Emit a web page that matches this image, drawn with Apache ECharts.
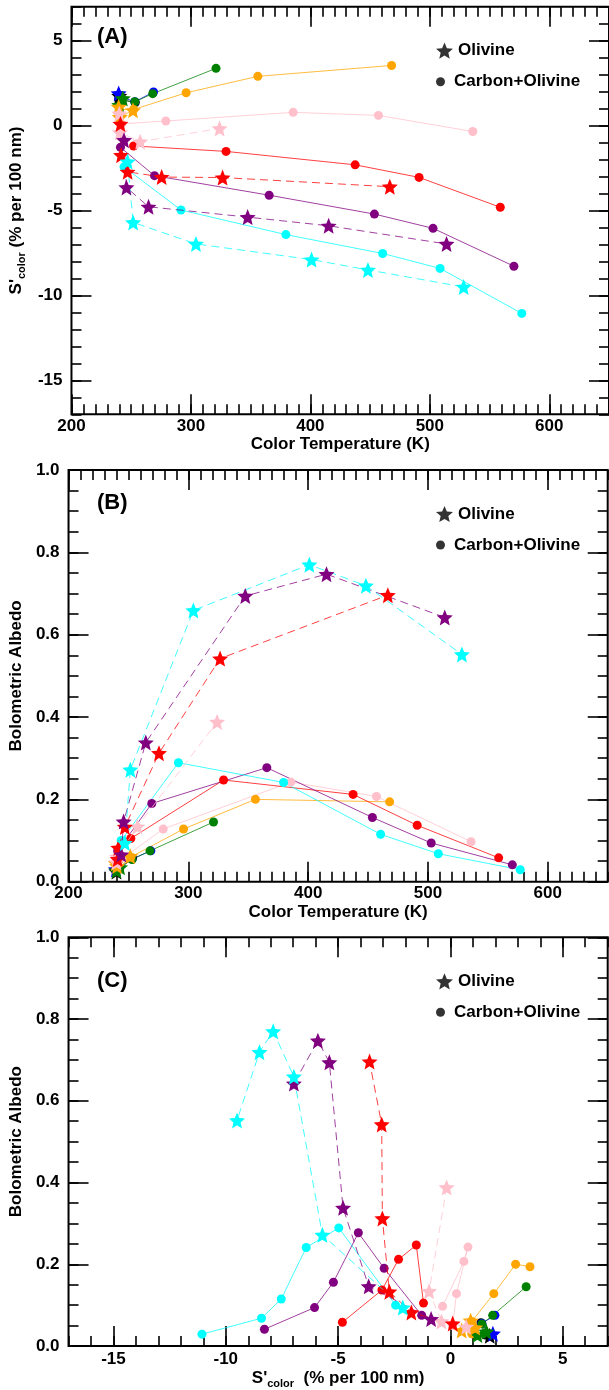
<!DOCTYPE html>
<html><head><meta charset="utf-8">
<script src="https://cdn.jsdelivr.net/npm/echarts@6/dist/echarts.min.js"></script>
<style>html,body{margin:0;padding:0;background:#fff}#c{width:609px;height:1390px}</style>
</head><body><div id="c"></div>
<script>
// ---------------- DATA (T = color temperature K, S = S'color %/100nm, A = bolometric albedo) -------------
// Carbon+Olivine (circles, solid lines)
const blueCircT  = [239.5, 253, 268.7];
const blueCircS  = [1.75, 1.40, 1.98];
const blueCircA  = [0.025, 0.055, 0.075];
const greenCircT = [240, 253, 268, 321];
const greenCircS = [1.50, 1.40, 1.88, 3.37];
const greenCircA = [0.030, 0.054, 0.075, 0.145];
const blackCircT = [239.5, 253.4];
const blackCircS = [1.55, 1.36];
const blackCircA = [0.027, 0.057];
const orangeCircT = [240, 252, 296, 356, 468];
const orangeCircS = [0.95, 0.95, 1.93, 2.90, 3.54];
const orangeCircA = [0.030, 0.060, 0.128, 0.200, 0.194];
const pinkCircT  = [242, 279, 385.6, 457, 536];
const pinkCircS  = [0.10, 0.27, 0.78, 0.60, -0.35];
const pinkCircA  = [0.050, 0.128, 0.242, 0.207, 0.097];
const redCircT   = [252, 329.4, 437.5, 491, 559];
const redCircS   = [-1.20, -1.52, -2.31, -3.05, -4.81];
const redCircA   = [0.105, 0.247, 0.212, 0.137, 0.058];
const purpleCircT = [241, 269.5, 365.5, 453.6, 502.7, 570.4];
const purpleCircS = [-1.28, -2.95, -4.10, -5.21, -6.05, -8.28];
const purpleCircA = [0.075, 0.190, 0.277, 0.156, 0.094, 0.041];
const cyanCircT  = [244, 291.7, 379.5, 460.5, 508.6, 577];
const cyanCircS  = [-2.44, -4.97, -6.42, -7.53, -8.41, -11.06];
const cyanCircA  = [0.100, 0.289, 0.241, 0.115, 0.068, 0.029];
// Olivine (stars, dashed lines)
const blueStarT  = [239.5];
const blueStarS  = [1.89];
const blueStarA  = [0.030];
const blackStarT = [240];
const blackStarS = [1.75];
const blackStarA = [0.025];
const greenStarT = [240, 243];
const greenStarS = [1.20, 1.60];
const greenStarA = [0.027, 0.035];
const orangeStarT = [239.5, 240.5, 251.5];
const orangeStarS = [1.10, 0.50, 0.90];
const orangeStarA = [0.045, 0.038, 0.062];
const pinkStarT  = [240, 240.5, 257.5, 324];
const pinkStarS  = [0.70, -0.40, -0.95, -0.17];
const pinkStarA  = [0.047, 0.060, 0.134, 0.388];
const redStarT   = [241, 241.5, 247, 275.5, 326.5, 466.5];
const redStarS   = [0.10, -1.74, -2.72, -3.03, -3.06, -3.60];
const redStarA   = [0.055, 0.082, 0.133, 0.312, 0.542, 0.696];
const purpleStarT = [244, 246, 264.5, 347.5, 415.3, 514];
const purpleStarS = [-0.86, -3.64, -4.78, -5.39, -5.90, -6.97];
const purpleStarA = [0.066, 0.146, 0.338, 0.694, 0.747, 0.642];
const cyanStarT  = [247, 251.6, 304.2, 401, 448.2, 528.3];
const cyanStarS  = [-2.12, -5.70, -6.97, -7.89, -8.50, -9.50];
const cyanStarA  = [0.094, 0.272, 0.659, 0.770, 0.719, 0.552];

// Tick values
const tempTicks   = [200, 300, 400, 500, 600];
const slopeTicks  = [-15, -10, -5, 0, 5];
const albedoTicks = [0, 0.2, 0.4, 0.6, 0.8, 1.0];
const legendNames = ['Olivine', 'Carbon+Olivine'];
const panelLetters = ['(A)', '(B)', '(C)'];

// ---------------- STYLE ----------------
const FONT = '"Liberation Sans", Arial, Helvetica, sans-serif';
const FS = 17;
const STAR = 'path://M50 0 L63.23 31.8 L97.55 34.55 L71.4 56.95 L79.39 90.45 L50 72.5 L20.61 90.45 L28.6 56.95 L2.45 34.55 L36.77 31.8 Z';

const groups = [
  {c:'#000000', circ:[blackCircT, blackCircS, blackCircA],star:[blackStarT, blackStarS, blackStarA]},
  {c:'#0000ff', circ:[blueCircT, blueCircS, blueCircA],   star:[blueStarT, blueStarS, blueStarA]},
  {c:'#008000', circ:[greenCircT, greenCircS, greenCircA],star:[greenStarT, greenStarS, greenStarA]},
  {c:'#ffa500', circ:[orangeCircT, orangeCircS, orangeCircA], star:[orangeStarT, orangeStarS, orangeStarA]},
  {c:'#ffc0cb', circ:[pinkCircT, pinkCircS, pinkCircA],   star:[pinkStarT, pinkStarS, pinkStarA]},
  {c:'#ff0000', circ:[redCircT, redCircS, redCircA],      star:[redStarT, redStarS, redStarA]},
  {c:'#800080', circ:[purpleCircT, purpleCircS, purpleCircA], star:[purpleStarT, purpleStarS, purpleStarA]},
  {c:'#00ffff', circ:[cyanCircT, cyanCircS, cyanCircA],   star:[cyanStarT, cyanStarS, cyanStarA]}
];

function range(a, b, step) {
  const out = []; const n = Math.round((b - a) / step);
  for (let i = 0; i <= n; i++) out.push(+(a + i * step).toFixed(4));
  return out;
}

const slopeName = (sp) => '{s|S\'}{sub|color}{s|' + sp + '(% per 100 nm)}';
const nameRich = {
  s:   {fontSize:FS, fontWeight:'bold', fontFamily:FONT, color:'#000', lineHeight:21},
  sub: {fontSize:11, fontWeight:'bold', fontFamily:FONT, color:'#000', lineHeight:8, verticalAlign:'bottom'}
};

const panels = [
  {grid:{left:71, top:6.7, width:538.6, height:407.6}, x:0, y:1,
   xr:[200,650], xMaj:tempTicks, xMin:range(200,650,10), xFmt:v=>String(v),
   yr:[-17,7], yMaj:slopeTicks, yMin:range(-17,7,1), yFmt:v=>String(v),
   xName:'Color Temperature (K)', yName:slopeName(' '), xGap:21, yGap:43, xMargin:4, letterDy:19},
  {grid:{left:67.7, top:470, width:540, height:411.7}, x:0, y:2,
   xr:[200,650], xMaj:tempTicks, xMin:range(200,650,10), xFmt:v=>String(v),
   yr:[0,1], yMaj:albedoTicks, yMin:range(0,1,0.05), yFmt:v=>v.toFixed(1),
   xName:'Color Temperature (K)', yName:'Bolometric Albedo', xGap:22, yGap:42, xMargin:3, letterDy:22},
  {grid:{left:67.7, top:937.3, width:540, height:410}, x:1, y:2,
   xr:[-17,7], xMaj:slopeTicks, xMin:range(-17,7,1), xFmt:v=>String(v),
   yr:[0,1], yMaj:albedoTicks, yMin:range(0,1,0.05), yFmt:v=>v.toFixed(1),
   xName:slopeName('  '), yName:'Bolometric Albedo', xGap:22, yGap:42, xMargin:5, letterDy:33}
];

const tickStyle = {color:'#000', width:1.6};
const labelStyle = {color:'#000', fontSize:FS, fontWeight:'bold', fontFamily:FONT};

const grids = [], xAxes = [], yAxes = [], series = [], legends = [], titles = [];

panels.forEach((p, g) => {
  grids.push(Object.assign({show:true, borderColor:'#000', borderWidth:2, backgroundColor:'transparent', containLabel:false}, p.grid));
  const base = (pos, r) => ({type:'value', gridIndex:g, position:pos, min:r[0], max:r[1],
    axisLine:{show:false, onZero:false}, splitLine:{show:false}, axisPointer:{show:false}});
  ['bottom','top'].forEach(pos => {
    const main = pos === 'bottom';
    xAxes.push(Object.assign(base(pos, p.xr), {
      axisTick:{show:true, inside:true, length:20, customValues:p.xMaj, lineStyle:tickStyle},
      axisLabel:Object.assign({show:main, customValues:p.xMaj, formatter:p.xFmt, margin:p.xMargin}, labelStyle),
      name: main ? p.xName : '', nameLocation:'middle', nameGap:p.xGap,
      nameTextStyle:{fontSize:FS, fontWeight:'bold', fontFamily:FONT, color:'#000', rich:nameRich}
    }));
    xAxes.push(Object.assign(base(pos, p.xr), {
      axisTick:{show:true, inside:true, length:10, customValues:p.xMin, lineStyle:tickStyle},
      axisLabel:{show:false}
    }));
  });
  ['left','right'].forEach(pos => {
    const main = pos === 'left';
    yAxes.push(Object.assign(base(pos, p.yr), {
      axisTick:{show:true, inside:true, length:20, customValues:p.yMaj, lineStyle:tickStyle},
      axisLabel:Object.assign({show:main, customValues:p.yMaj, formatter:p.yFmt, margin:9}, labelStyle),
      name: main ? p.yName : '', nameLocation:'middle', nameGap:p.yGap, nameRotate:90,
      nameTextStyle:{fontSize:FS, fontWeight:'bold', fontFamily:FONT, color:'#000', rich:nameRich}
    }));
    yAxes.push(Object.assign(base(pos, p.yr), {
      axisTick:{show:true, inside:true, length:10, customValues:p.yMin, lineStyle:tickStyle},
      axisLabel:{show:false}
    }));
  });

  const xi = g * 4, yi = g * 4;
  const mk = (arr, star, color) => {
    const xs = arr[p.x], ys = arr[p.y];
    return {
      type:'line', xAxisIndex:xi, yAxisIndex:yi, animation:false, silent:true,
      data: xs.map((v, i) => [v, ys[i]]),
      symbol: star ? STAR : 'circle', symbolSize: star ? 16 : 9, showSymbol:true,
      itemStyle:{color:color, opacity:1},
      lineStyle:{color:color, width:1, opacity:0.75, type: star ? [8,5] : 'solid'},
      z: star ? 3 : 2
    };
  };
  groups.forEach(gr => series.push(mk(gr.circ, false, gr.c)));
  groups.forEach(gr => series.push(mk(gr.star, true, gr.c)));

  const top = p.grid.top;
  const lts = {color:'#000', fontSize:FS, fontWeight:'bold', fontFamily:FONT};
  legends.push({data:[{name:legendNames[0], icon:STAR}], left:436, top:top + 44 - 8.5, itemWidth:17, itemHeight:17,
    padding:0, selectedMode:false, textStyle:lts});
  legends.push({data:[{name:legendNames[1], icon:'circle'}], left:436, top:top + 71 - 4.5, itemWidth:17, itemHeight:9,
    padding:0, selectedMode:false, textStyle:lts});
  titles.push({text:panelLetters[g], left:97, top:top + p.letterDy, padding:0,
    textStyle:{color:'#000', fontSize:22, fontWeight:'bold', fontFamily:FONT}});
});

// legend-only entries
series.push({type:'scatter', name:legendNames[0], xAxisIndex:0, yAxisIndex:0, data:[], symbol:STAR, itemStyle:{color:'#000'}});
series.push({type:'scatter', name:legendNames[1], xAxisIndex:0, yAxisIndex:0, data:[], symbol:'circle', itemStyle:{color:'#000'}});

const chart = echarts.init(document.getElementById('c'), null, {renderer:'canvas'});
chart.setOption({
  animation:false, backgroundColor:'#fff',
  title:titles, legend:legends, grid:grids, xAxis:xAxes, yAxis:yAxes, series:series
});
</script></body></html>
